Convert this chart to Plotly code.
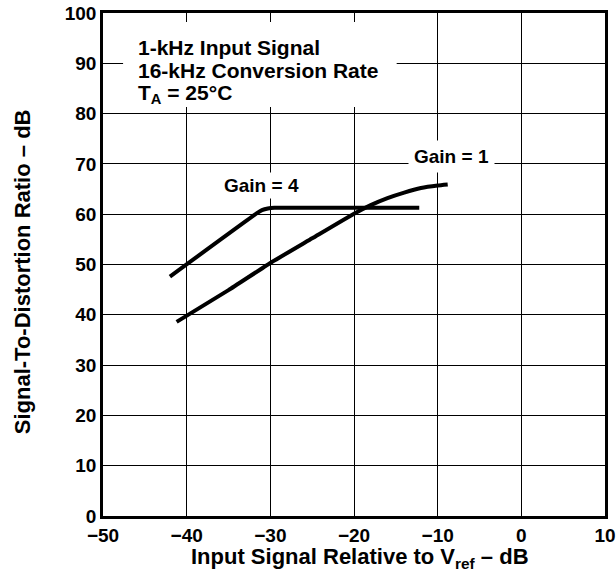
import plotly.graph_objects as go

gain4_x = [-42.0, -31.6, -31.0, -30.3, -29.5, -28.5, -12.2]
gain4_y = [47.6, 60.2, 60.8, 61.15, 61.3, 61.3, 61.3]

gain1_x = [-41.2, -35.0, -30.0, -25.0, -20.0, -18.0, -16.0, -14.0, -12.0, -10.0, -8.8]
gain1_y = [38.6, 44.9, 50.3, 55.2, 60.1, 61.8, 63.2, 64.3, 65.2, 65.7, 65.9]

x_ticks = [-50, -40, -30, -20, -10, 0, 10]
x_labels = ["\u221250", "\u221240", "\u221230", "\u221220", "\u221210", "0", "10"]
y_ticks = [0, 10, 20, 30, 40, 50, 60, 70, 80, 90, 100]

conditions = ["1-kHz Input Signal", "16-kHz Conversion Rate", "T<sub>A</sub> = 25\u00b0C"]
conditions_y = [93.2, 88.6, 83.9]

FONT = "Liberation Sans, Arial, sans-serif"

fig = go.Figure()
for xs, ys in [(gain4_x, gain4_y), (gain1_x, gain1_y)]:
    fig.add_trace(go.Scatter(x=xs, y=ys, mode="lines",
                             line=dict(color="black", width=4, shape="spline", smoothing=0.4),
                             showlegend=False, hoverinfo="skip"))

fig.update_layout(
    width=616, height=582,
    margin=dict(l=103, r=11, t=13, b=66),
    paper_bgcolor="white", plot_bgcolor="white",
    font=dict(family=FONT, size=19, color="black"),
    xaxis=dict(range=[-50, 10], tickmode="array", tickvals=x_ticks, ticktext=x_labels,
               showgrid=True, gridcolor="black", gridwidth=1, zeroline=False,
               showline=True, linecolor="black", linewidth=2.5, mirror=True, automargin=False,
               ticklabeloverflow="allow",
               ticks="", ticklen=0, tickfont=dict(family=FONT, size=19, color="black", weight="bold")),
    yaxis=dict(range=[0, 100], tickmode="array", tickvals=y_ticks,
               showgrid=True, gridcolor="black", gridwidth=1, zeroline=False,
               showline=True, linecolor="black", linewidth=2.5, mirror=True, automargin=False,
               ticklabeloverflow="allow",
               ticks="", ticklen=0, tickfont=dict(family=FONT, size=19, color="black", weight="bold")),
)

# axis titles
fig.add_annotation(x=0.512, y=-0.0835, xref="paper", yref="paper", showarrow=False,
                   xanchor="center", yanchor="middle",
                   text="<b>Input Signal Relative to V<sub>ref</sub> \u2013 dB</b>",
                   font=dict(family=FONT, size=22, color="black"))
fig.add_annotation(x=-0.161, y=0.485, xref="paper", yref="paper", showarrow=False,
                   xanchor="center", yanchor="middle", textangle=-90,
                   text="<b>Signal-To-Distortion Ratio \u2013 dB</b>",
                   font=dict(family=FONT, size=22, color="black"))

fig.add_shape(type="rect", xref="x", yref="y", x0=-47.6, x1=-14.9, y0=81.3, y1=98.2,
              fillcolor="white", line=dict(width=0), layer="between")

for txt, yy in zip(conditions, conditions_y):
    fig.add_annotation(x=-46.0, y=yy, xref="x", yref="y", xanchor="left", yanchor="middle",
                       align="left", showarrow=False, text="<b>" + txt + "</b>",
                       font=dict(family=FONT, size=21, color="black"))

fig.add_annotation(x=-31.1, y=65.8, xref="x", yref="y", showarrow=False, bgcolor="white",
                   borderpad=2, text="<b>Gain = 4</b>",
                   font=dict(family=FONT, size=19, color="black"))
fig.add_annotation(x=-8.3, y=71.4, xref="x", yref="y", showarrow=False, bgcolor="white",
                   borderpad=5, text="<b>Gain = 1</b>",
                   font=dict(family=FONT, size=19, color="black"))

# remove the page's default 8px body margin so the figure fills the window exactly
fig.write_html("out.html", config={"displayModeBar": False},
               post_script="document.body.style.margin='0';")
